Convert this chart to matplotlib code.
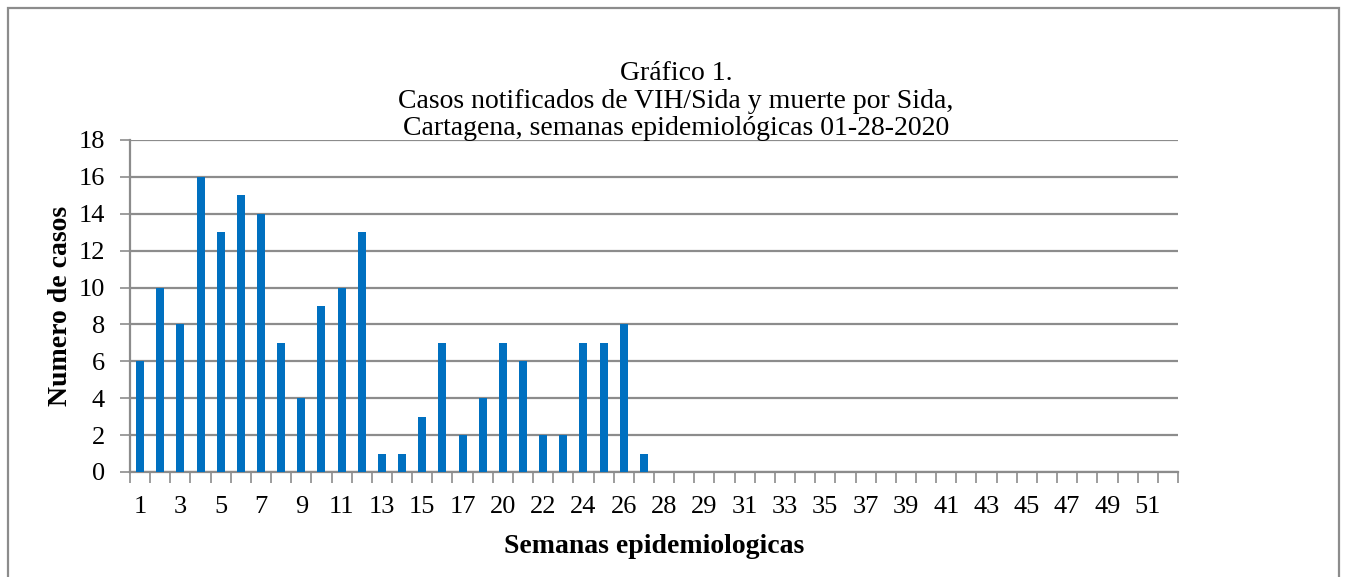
import matplotlib.pyplot as plt
from matplotlib.patches import Rectangle

# Weekly categories as they appear on the axis (every other one labelled)
weeks = [str(w) for w in range(1, 18)] + ["19"] + [str(w) for w in range(20, 29)] \
    + ["28"] + [str(w) for w in range(29, 53)]
cases = [6, 10, 8, 16, 13, 15, 14, 7, 4, 9, 10, 13, 1, 1, 3, 7, 2, 4, 7, 6,
         2, 2, 7, 7, 8, 1]
cases = cases + [0] * (len(weeks) - len(cases))
y_ticks = list(range(0, 19, 2))

BAR_COLOR = "#0070C0"
GRID_COLOR = "#8C8C8C"
FONT = "Liberation Serif"

fig = plt.figure(figsize=(13.47, 5.77), dpi=100)
ax = fig.add_axes([130 / 1347, 1 - 472 / 577, 1048 / 1347, 332 / 577])

x = list(range(len(weeks)))
ax.bar(x, cases, width=0.4, color=BAR_COLOR, zorder=3)

ax.set_xlim(-0.5, len(weeks) - 0.5)
ax.set_ylim(0, 18)
ax.set_yticks(y_ticks)
ax.set_yticklabels([str(v) for v in y_ticks], fontsize=19, family=FONT)
ax.yaxis.grid(True, color=GRID_COLOR, linewidth=1.6, zorder=0)

# labels every other category, tick marks between categories
ax.set_xticks(x[::2])
ax.set_xticklabels(weeks[::2], fontsize=19, family=FONT)
ax.set_xticks([i - 0.5 for i in range(len(weeks) + 1)], minor=True)
ax.tick_params(axis="x", which="major", length=0, pad=17)
ax.tick_params(axis="x", which="minor", length=8, width=1.2, color=GRID_COLOR)
ax.tick_params(axis="y", length=7, width=1.2, color=GRID_COLOR, pad=11)

for side in ("top", "right"):
    ax.spines[side].set_visible(False)
for side in ("left", "bottom"):
    ax.spines[side].set_color(GRID_COLOR)
    ax.spines[side].set_linewidth(1.6)

ax.set_ylabel("Numero de casos", fontsize=20, fontweight="bold", family=FONT,
              labelpad=4)
ax.set_xlabel("Semanas epidemiologicas", fontsize=20, fontweight="bold",
              family=FONT, labelpad=12)

fig.text(676 / 1347, 1 - 101 / 577,
         "Gráfico 1.\nCasos notificados de VIH/Sida y muerte por Sida,\n"
         "Cartagena, semanas epidemiológicas 01-28-2020",
         ha="center", va="center", fontsize=20, family=FONT, linespacing=1.13)

# outer chart border
fig.patches.append(Rectangle((8 / 1347, -0.05), 1331 / 1347, 1.05 - 8 / 577,
                             transform=fig.transFigure, fill=False,
                             edgecolor="#8C8C8C", linewidth=1.6))

fig.savefig("out.png", dpi=100)
